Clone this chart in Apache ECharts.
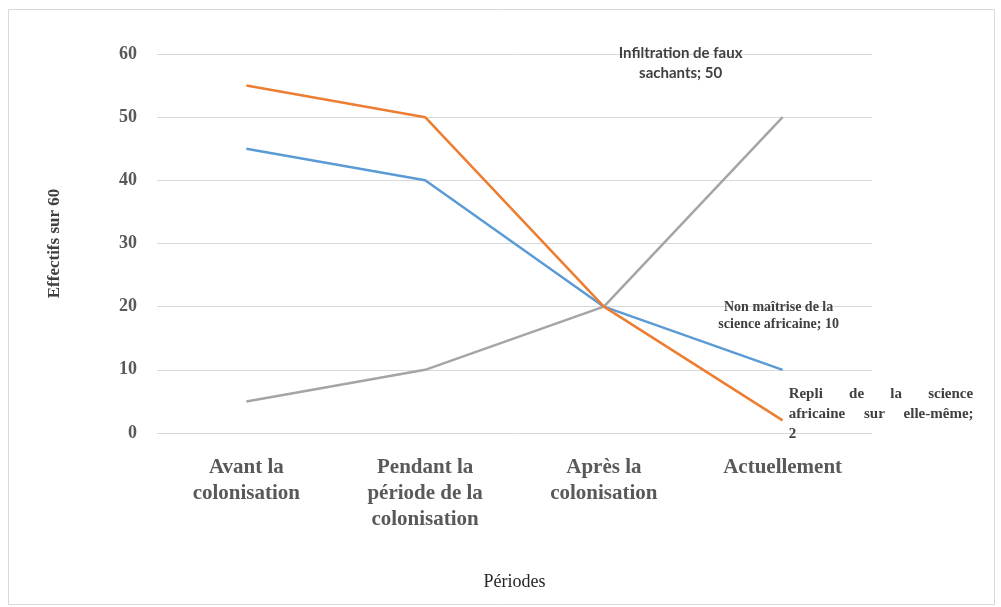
<!DOCTYPE html>
<html>
<head>
<meta charset="utf-8">
<script src="https://cdn.jsdelivr.net/npm/echarts@6/dist/echarts.min.js"></script>
<style>
  html, body { margin: 0; padding: 0; background: #fff; }
  #chart { width: 1001px; height: 607px; }
</style>
</head>
<body>
<div id="chart"></div>
<script>
// Périodes (catégories de l'axe horizontal)
const periodes = ['Avant la\ncolonisation', 'Pendant la\npériode de la\ncolonisation', 'Après la\ncolonisation', 'Actuellement'];

// Effectifs sur 60 pour chaque facteur
const nonMaitrise = [45, 40, 20, 10];
const repli = [55, 50, 20, 2];
const infiltration = [5, 10, 20, 50];

const nomsSeries = ['Non maîtrise de la science africaine', 'Repli de la science africaine sur elle-même', 'Infiltration de faux sachants'];
const yTicks = { min: 0, max: 60, interval: 10 };

const serif = '"Liberation Serif", "DejaVu Serif", serif';

// Étiquette affichée uniquement sur le dernier point d'une série
function dernierPoint(values, label) {
  return values.map((v, i) => i === values.length - 1 ? { value: v, label: Object.assign({ show: true }, label) } : v);
}

const chart = echarts.init(document.getElementById('chart'), null, { renderer: 'canvas' });

chart.setOption({
  backgroundColor: '#ffffff',
  animation: false,
  graphic: [{
    type: 'rect',
    shape: { x: 8.5, y: 9.5, width: 986, height: 595 },
    style: { fill: 'none', stroke: '#d9d9d9', lineWidth: 1 },
    silent: true
  }],
  grid: { left: 157, right: 129, top: 54, bottom: 174 },
  xAxis: {
    type: 'category',
    data: periodes,
    boundaryGap: true,
    axisLine: { show: false },
    axisTick: { show: false },
    axisLabel: {
      interval: 0,
      margin: 22,
      color: '#595959',
      fontFamily: serif,
      fontWeight: 'bold',
      fontSize: 21,
      lineHeight: 26
    },
    name: 'Périodes',
    nameLocation: 'middle',
    nameGap: 140,
    nameTextStyle: { color: '#262626', fontFamily: serif, fontSize: 18 }
  },
  yAxis: {
    type: 'value',
    min: yTicks.min,
    max: yTicks.max,
    interval: yTicks.interval,
    axisLine: { show: false },
    axisTick: { show: false },
    splitLine: { lineStyle: { color: '#d9d9d9', width: 1 } },
    axisLabel: {
      margin: 20,
      color: '#595959',
      fontFamily: serif,
      fontWeight: 'bold',
      fontSize: 18
    },
    name: 'Effectifs sur 60',
    nameLocation: 'middle',
    nameGap: 94,
    nameRotate: 90,
    nameTextStyle: { color: '#404040', fontFamily: serif, fontWeight: 'bold', fontSize: 17 }
  },
  series: [
    {
      name: nomsSeries[0],
      type: 'line',
      data: dernierPoint(nonMaitrise, {
        position: 'top',
        distance: 5,
        offset: [-4, -32],
        formatter: 'Non maîtrise de la\nscience africaine; {c}',
        color: '#404040',
        fontFamily: serif,
        fontWeight: 'bold',
        fontSize: 14,
        lineHeight: 17,
        align: 'center'
      }),
      symbol: 'circle',
      symbolSize: 0,
      showSymbol: true,
      lineStyle: { color: '#5b9bd5', width: 2.5 },
      itemStyle: { color: '#5b9bd5' },
      z: 3
    },
    {
      name: nomsSeries[1],
      type: 'line',
      data: dernierPoint(repli, {
        position: 'right',
        distance: 6,
        offset: [0, -6],
        formatter: 'Repli       de       la       science\nafricaine     sur     elle-même;\n{c}',
        color: '#404040',
        fontFamily: serif,
        fontWeight: 'bold',
        fontSize: 15,
        lineHeight: 20,
        align: 'left'
      }),
      symbol: 'circle',
      symbolSize: 0,
      showSymbol: true,
      lineStyle: { color: '#ed7d31', width: 2.5 },
      itemStyle: { color: '#ed7d31' },
      z: 4
    },
    {
      name: nomsSeries[2],
      type: 'line',
      data: dernierPoint(infiltration, {
        position: 'top',
        distance: 5,
        offset: [-102, -29],
        formatter: 'Infiltration de faux\nsachants; {c}',
        color: '#404040',
        fontFamily: 'Lato, "Open Sans", sans-serif',
        fontWeight: 'bold',
        fontSize: 15,
        lineHeight: 20,
        align: 'center'
      }),
      symbol: 'circle',
      symbolSize: 0,
      showSymbol: true,
      lineStyle: { color: '#a5a5a5', width: 2.5 },
      itemStyle: { color: '#a5a5a5' },
      z: 2
    }
  ]
});
</script>
</body>
</html>
